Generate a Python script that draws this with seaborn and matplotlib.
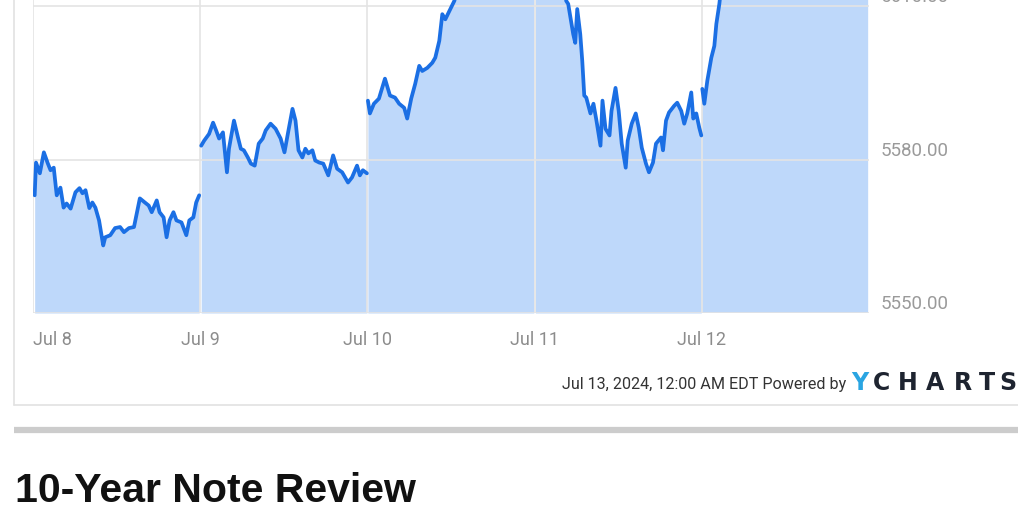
import numpy as np
import pandas as pd
import matplotlib
matplotlib.use("Agg")
import matplotlib.pyplot as plt
import seaborn as sns
from matplotlib import font_manager
from matplotlib.lines import Line2D

# ---------------- data (S&P 500 intraday, Jul 8 - Jul 12, 2024) ----------------
day_labels = ["Jul 8", "Jul 9", "Jul 10", "Jul 11", "Jul 12"]
y_ticks = [5550, 5580, 5610]

# fraction of each day slot, and index level
jul8_t = [0.010, 0.018, 0.041, 0.065, 0.089, 0.105, 0.124, 0.142, 0.164, 0.183,
          0.201, 0.225, 0.254, 0.278, 0.296, 0.314, 0.337, 0.355, 0.373, 0.395,
          0.420, 0.432, 0.462, 0.491, 0.521, 0.544, 0.574, 0.604, 0.639, 0.669,
          0.692, 0.710, 0.740, 0.757, 0.781, 0.799, 0.817, 0.840, 0.858, 0.888,
          0.917, 0.935, 0.959, 0.976, 0.994]
jul8_v = [5573, 5579.4, 5577.3, 5581.4, 5579.2, 5577.9, 5578.4, 5573, 5574.5, 5570.6,
          5571.4, 5570.4, 5573.6, 5574.4, 5573.4, 5574, 5570.5, 5571.6, 5570.6, 5568.1,
          5563.2, 5564.8, 5565.2, 5566.6, 5566.8, 5565.8, 5566.6, 5566.8, 5572.4, 5571.6,
          5571, 5569.7, 5572, 5569.7, 5568.7, 5564.8, 5568.1, 5569.7, 5568.1, 5567.7,
          5565.2, 5568.1, 5568.7, 5571.6, 5573]

jul9_t = [0.006, 0.024, 0.053, 0.077, 0.095, 0.113, 0.136, 0.160, 0.172, 0.202,
          0.226, 0.243, 0.261, 0.285, 0.303, 0.326, 0.350, 0.374, 0.392, 0.421,
          0.451, 0.481, 0.504, 0.528, 0.552, 0.570, 0.588, 0.611, 0.629, 0.647,
          0.671, 0.688, 0.712, 0.736, 0.766, 0.795, 0.819, 0.849, 0.884, 0.908,
          0.938, 0.955, 0.973, 0.997]
jul9_v = [5582.7, 5583.7, 5585, 5587.2, 5585.7, 5584.1, 5585.3, 5577.5, 5582.1, 5587.6,
          5584.3, 5582.1, 5581.8, 5580.4, 5579.2, 5578.8, 5583.1, 5584.1, 5585.7, 5587,
          5586, 5584.1, 5581.4, 5585.7, 5589.9, 5587.6, 5581.8, 5580.4, 5582.1, 5581.2,
          5581.8, 5579.8, 5579.4, 5579.2, 5576.9, 5580.8, 5578.2, 5577.5, 5575.5, 5576.5,
          5578.8, 5576.9, 5577.9, 5577.3]

jul10_t = [0.003, 0.015, 0.039, 0.069, 0.105, 0.135, 0.165, 0.190, 0.220, 0.238,
           0.262, 0.286, 0.310, 0.328, 0.358, 0.388, 0.406, 0.430, 0.448, 0.466,
           0.490, 0.520, 0.560, 0.600, 0.650, 0.700, 0.750, 0.800, 0.850, 0.900,
           0.950, 0.995]
jul10_v = [5591.5, 5589, 5590.9, 5591.9, 5595.8, 5592.5, 5592.1, 5590.9, 5590.1, 5588,
           5591.9, 5594.8, 5598.3, 5597.3, 5597.9, 5598.9, 5599.9, 5603.2, 5608.4, 5607.4,
           5609, 5611, 5616, 5620, 5624, 5628, 5627, 5631, 5630, 5633,
           5632, 5634]

jul11_t = [0.005, 0.030, 0.060, 0.100, 0.130, 0.160, 0.175,
           0.189, 0.201, 0.231, 0.243, 0.255, 0.273, 0.285, 0.297, 0.309, 0.334,
           0.352, 0.370, 0.394, 0.406, 0.424, 0.448, 0.460, 0.484, 0.503, 0.521,
           0.545, 0.557, 0.581, 0.605, 0.623, 0.641, 0.666, 0.684, 0.708, 0.726,
           0.756, 0.768, 0.786, 0.804, 0.835, 0.853, 0.877, 0.895, 0.913, 0.937,
           0.949, 0.967, 0.985, 0.997]
jul11_v = [5636, 5640, 5638, 5642, 5635, 5628, 5620,
           5611, 5610.4, 5604.5, 5602.8, 5609.4, 5604.5, 5599.3, 5592.5, 5592.1, 5589,
           5590.9, 5587.6, 5582.7, 5591.5, 5586, 5584.7, 5589.5, 5594, 5589.5, 5583.1,
           5578.4, 5583.7, 5587, 5589, 5586.2, 5582.3, 5579.2, 5577.5, 5579.4, 5583.1,
           5584.3, 5581.8, 5587.6, 5589.2, 5590.5, 5591.1, 5589.5, 5587, 5589, 5593.1,
           5588, 5589, 5586.2, 5584.7]

jul12_t = [0.003, 0.015, 0.033, 0.057, 0.075, 0.087, 0.105, 0.130, 0.180, 0.250,
           0.320, 0.400, 0.500, 0.600, 0.700, 0.800, 0.900, 0.995]
jul12_v = [5593.8, 5590.9, 5595.4, 5599.9, 5602.2, 5606.5, 5610.4, 5618, 5628, 5640,
           5648, 5652, 5645, 5638, 5630, 5626, 5620, 5616]

day_t = [jul8_t, jul9_t, jul10_t, jul11_t, jul12_t]
day_v = [jul8_v, jul9_v, jul10_v, jul11_v, jul12_v]

frames = []
for i, (tt, vv) in enumerate(zip(day_t, day_v)):
    frames.append(pd.DataFrame({"t": np.array(tt) + i, "v": vv, "day": day_labels[i]}))
df = pd.concat(frames, ignore_index=True)

# ---------------- style ----------------
sns.set_theme(style="white")
names = {f.name for f in font_manager.fontManager.ttflist}
narrow = "Liberation Sans Narrow" if "Liberation Sans Narrow" in names else "Roboto"
plt.rcParams["font.family"] = [narrow, "DejaVu Sans"]

LINE = "#1b6fe4"
FILL = "#bed8fa"
GRID = "#e4e4e4"

W, H = 1018, 516
fig = plt.figure(figsize=(W / 100, H / 100), dpi=100)
fig.patch.set_facecolor("white")

ylo, yhi = 5550, 5665
px_per_unit = (313 - 6) / 60.0
ax_h = (yhi - ylo) * px_per_unit
ax = fig.add_axes([33 / W, (H - 313) / H, (869 - 33) / W, ax_h / H])
ax.set_facecolor("white")

for i in range(len(day_labels)):
    sub = df[df["day"] == day_labels[i]]
    ax.fill_between(sub["t"], sub["v"], ylo, color=FILL, lw=0, zorder=1)

sns.lineplot(data=df, x="t", y="v", units="day", estimator=None, color=LINE,
             linewidth=2.7, ax=ax, zorder=3, legend=False)

ax.set_xlim(0, 5)
ax.set_ylim(ylo, yhi)
ax.set_xticks(range(len(day_labels)))
ax.set_xticklabels(day_labels)
ax.set_yticks(y_ticks)
ax.set_yticklabels([f"{y:.2f}" for y in y_ticks])
ax.yaxis.tick_right()
ax.set_xlabel("")
ax.set_ylabel("")
for s in ax.spines.values():
    s.set_visible(False)
ax.grid(True, color=GRID, lw=1.2, zorder=2)
ax.set_axisbelow(False)
for gl in ax.get_xgridlines() + ax.get_ygridlines():
    gl.set_zorder(2)
ax.tick_params(axis="both", length=0)
ax.tick_params(axis="x", pad=13, labelsize=13, labelcolor="#8c8c8c")
ax.tick_params(axis="y", pad=8, labelsize=13.5, labelcolor="#9a9a9a")
lbls = ax.get_xticklabels()
lbls[0].set_ha("left")
for lab in ax.get_yticklabels():
    lab.set_va("bottom")

# ---------------- card frame & page decorations ----------------
def fx(px):
    return px / W

def fy(py):
    return 1 - py / H

fig.add_artist(Line2D([fx(14), fx(14)], [fy(0), fy(405)], color="#e2e2e2", lw=1.2))
fig.add_artist(Line2D([fx(14), fx(1018)], [fy(405), fy(405)], color="#e2e2e2", lw=1.2))
fig.add_artist(Line2D([fx(14), fx(1018)], [fy(430), fy(430)], color="#cccccc", lw=4.5,
                      solid_capstyle="butt"))

fig.text(fx(846), fy(384), "Jul 13, 2024, 12:00 AM EDT Powered by", ha="right", va="center",
         fontsize=11.6, color="#333333")
fig.text(fx(860), fy(383), "Y", ha="center", va="center", fontsize=17, fontweight="bold",
         color="#2aa5e2", family=["DejaVu Sans"])
brand = "CHARTS"
brand_x = [882, 908, 935, 963, 987, 1008]
for ch, xx in zip(brand, brand_x):
    fig.text(fx(xx), fy(383), ch, ha="center", va="center", fontsize=17, fontweight="bold",
             color="#1e2430", family=["DejaVu Sans"])

fig.text(fx(15), fy(491), "10-Year Note Review", ha="left", va="center", fontsize=29.5,
         fontweight="bold", color="#111111", family=["Liberation Sans", "DejaVu Sans"])

fig.savefig("out.png", dpi=100, facecolor="white")
